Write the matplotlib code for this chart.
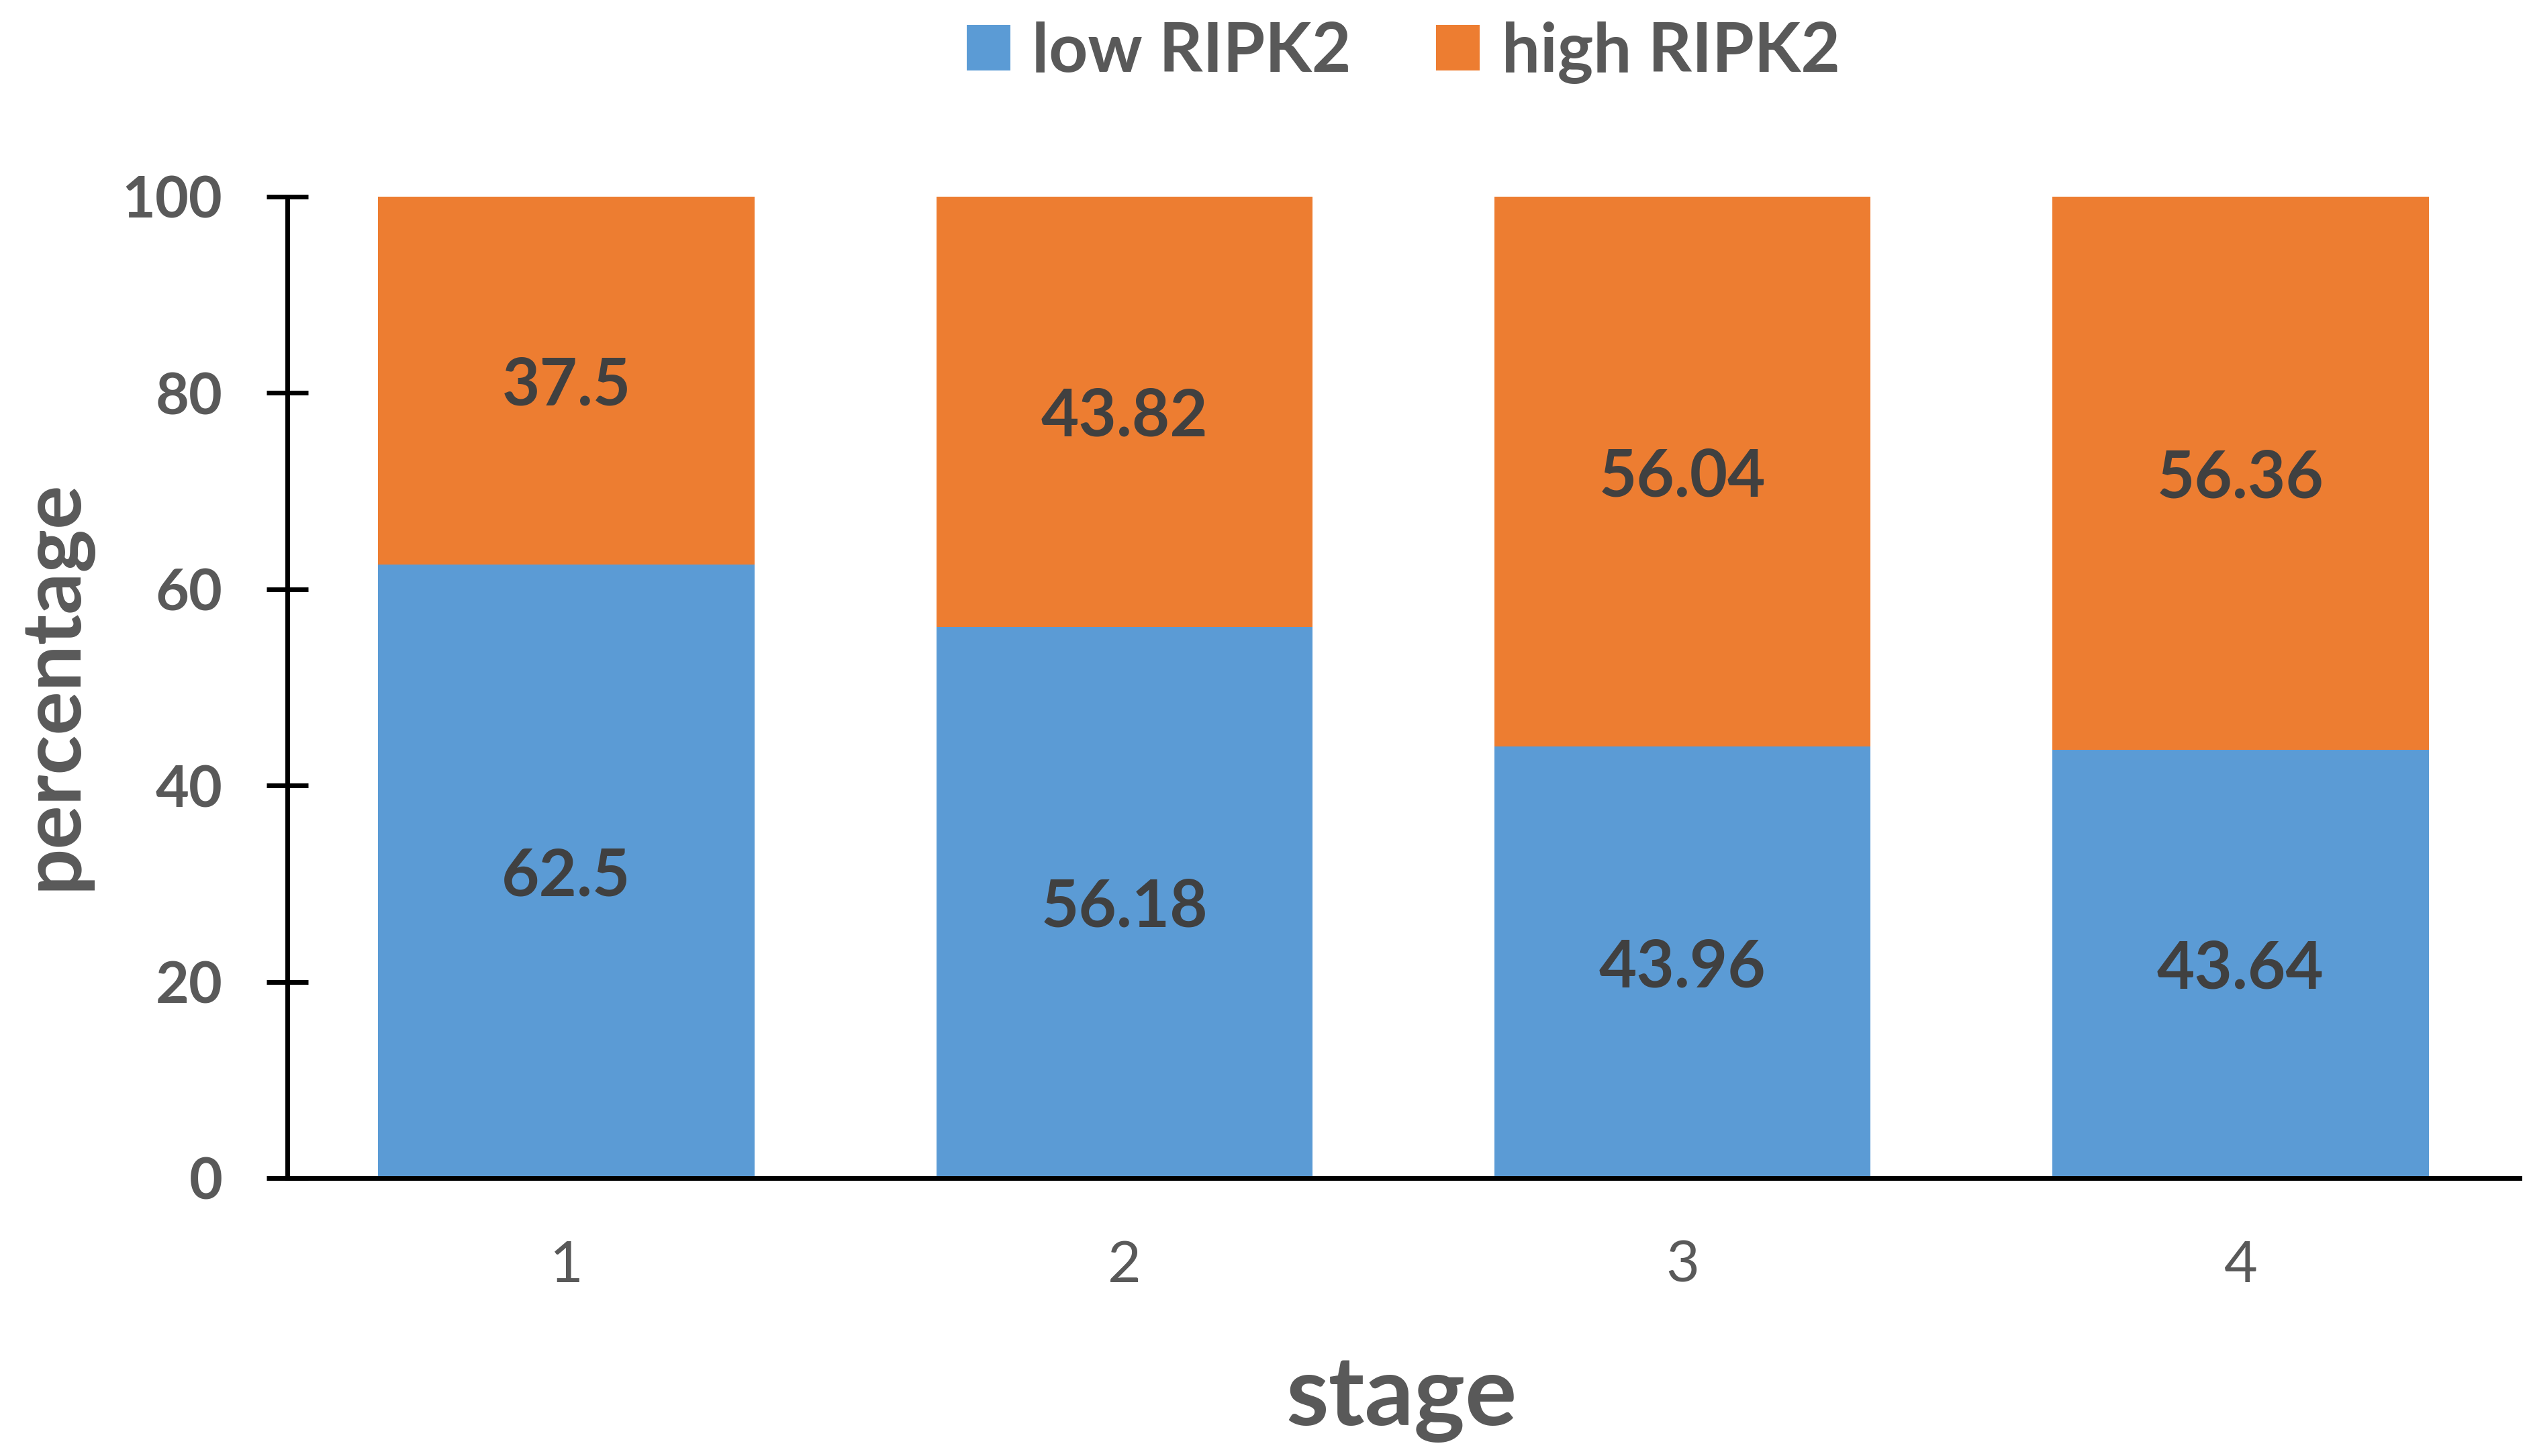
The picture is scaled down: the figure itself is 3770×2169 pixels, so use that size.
import numpy as np
import matplotlib
matplotlib.use("Agg")
import matplotlib.pyplot as plt

# data
stages = ["1", "2", "3", "4"]
low_ripk2 = [62.5, 56.18, 43.96, 43.64]
high_ripk2 = [37.5, 43.82, 56.04, 56.36]
series_names = ["low RIPK2", "high RIPK2"]

BLUE = "#5B9BD5"
ORANGE = "#ED7D31"
GREY = "#595959"
DARK = "#404040"

plt.rcParams["font.family"] = ["Lato", "DejaVu Sans"]

fig = plt.figure(figsize=(37.7, 21.69), dpi=100)
ax = fig.add_axes([0.1135, 0.1909, 0.882, 0.6741])

x = np.arange(1, len(stages) + 1)
width = 0.674
b1 = ax.bar(x, low_ripk2, width, color=BLUE, label=series_names[0])
b2 = ax.bar(x, high_ripk2, width, bottom=low_ripk2, color=ORANGE, label=series_names[1])

# value labels in the middle of each segment
for bars, vals, base in [(b1, low_ripk2, [0] * 4), (b2, high_ripk2, low_ripk2)]:
    for rect, v, b in zip(bars, vals, base):
        ax.text(rect.get_x() + rect.get_width() / 2, b + v / 2, f"{v:g}",
                ha="center", va="center_baseline", fontsize=70, fontweight="bold",
                color=DARK)

ax.set_xlim(0.5, 4.5)
ax.set_ylim(0, 100)
ax.set_yticks(range(0, 101, 20))
ax.set_xticks(x)
ax.set_xticklabels(stages)

for s in ["top", "right"]:
    ax.spines[s].set_visible(False)
for s in ["left", "bottom"]:
    ax.spines[s].set_linewidth(5)
    ax.spines[s].set_color("black")

ax.tick_params(axis="y", direction="inout", length=45, width=5, color="black",
               pad=47, labelsize=62, labelcolor=GREY)
for lab in ax.get_yticklabels():
    lab.set_fontweight("bold")
ax.tick_params(axis="x", length=0, pad=66, labelsize=62, labelcolor=GREY)

fig.text(2088 / 3770, 1 - 2123 / 2169, "stage", ha="center", va="baseline",
         fontsize=104, fontweight="bold", color=GREY)
fig.text(80 / 3770, 0.5295, "percentage", ha="center", va="center", rotation=90,
         fontsize=88, fontweight="bold", color=GREY)

fig.legend(loc="center", bbox_to_anchor=(0.5544, 0.964), ncol=2, frameon=False,
           handlelength=0.64, handleheight=0.66, handletextpad=0.32,
           columnspacing=1.25, borderpad=0, labelcolor=GREY,
           prop={"weight": "bold", "size": 73})

fig.savefig("out.png", dpi=100, facecolor="white")
